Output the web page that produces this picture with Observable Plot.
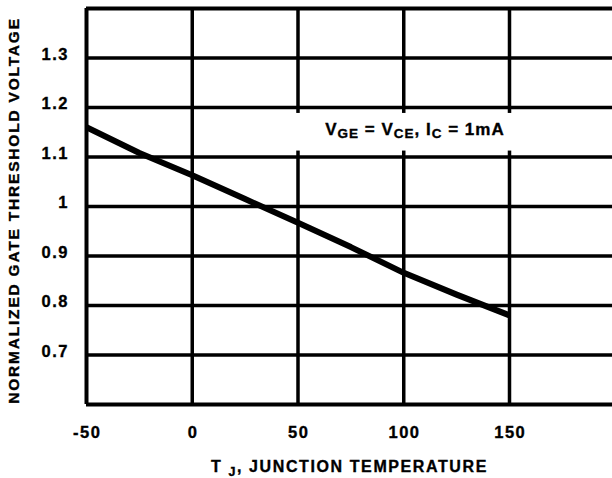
<!DOCTYPE html>
<html>
<head>
<meta charset="utf-8">
<script src="https://cdn.jsdelivr.net/npm/d3@7"></script>
<script src="https://cdn.jsdelivr.net/npm/@observablehq/plot@0.6"></script>
<style>
  html, body { margin: 0; padding: 0; background: #fff; }
  #chart svg { display: block; }
  #chart svg text { stroke: #000; stroke-width: 0.35px; }
</style>
</head>
<body>
<div id="chart"></div>
<script>
// Data
const temps = [-50, -25, 0, 25, 50, 75, 100, 125, 150];
const vth = [1.16, 1.108, 1.063, 1.015, 0.967, 0.918, 0.866, 0.822, 0.78];
const xTicks = [-50, 0, 50, 100, 150];
const yTicks = [0.7, 0.8, 0.9, 1, 1.1, 1.2, 1.3];
const xLabel = "T J, JUNCTION TEMPERATURE";
const yLabel = "NORMALIZED GATE THRESHOLD VOLTAGE";
const note = "VGE = VCE, IC = 1mA";

const rows = temps.map((t, i) => ({t, v: vth[i]}));
const gridX = xTicks.filter(d => d !== -50);

const FONT = "'Liberation Sans', Arial, Helvetica, sans-serif";

const chart = Plot.plot({
  width: 612,
  height: 478,
  marginLeft: 86,
  marginRight: 0,
  marginTop: 8,
  marginBottom: 74,
  style: {fontFamily: FONT, fontWeight: "bold", fontSize: "16.5px", color: "#000", background: "#fff", overflow: "visible"},
  x: {domain: [-50, 198.7]},
  y: {domain: [0.6, 1.4]},
  marks: [
    // grid
    Plot.ruleX(gridX, {stroke: "#000", strokeWidth: 3.5}),
    Plot.ruleY(yTicks, {stroke: "#000", strokeWidth: 3.5}),
    // frame (left, top, bottom)
    Plot.ruleX([-50], {stroke: "#000", strokeWidth: 4}),
    Plot.ruleY([0.6, 1.4], {stroke: "#000", strokeWidth: 4}),
    // annotation background
    Plot.rect([{x1: 12, x2: 162, y1: 1.112, y2: 1.188}], {x1: "x1", x2: "x2", y1: "y1", y2: "y2", fill: "#fff"}),
    Plot.text([note], {x: 105.3, y: 1.155, text: d => d, fill: "#000", fontSize: 17, fontWeight: "bold", textAnchor: "middle"}),
    // curve
    Plot.line(rows, {x: "t", y: "v", stroke: "#000", strokeWidth: 6, strokeLinecap: "butt", strokeLinejoin: "round"}),
    // axes
    Plot.axisX(xTicks, {tickSize: 0, tickPadding: 22, dx: 0.75, tickFormat: d => String(d), label: null, fill: "#000", fontSize: 16.5}),
    Plot.axisY(yTicks, {tickSize: 0, tickPadding: 17.5, dy: -3.5, tickFormat: d => String(d), label: null, fill: "#000", fontSize: 16.5}),
    // axis titles
    Plot.text([yLabel], {frameAnchor: "left", text: d => d, rotate: -90, dx: -68, dy: 4, fontSize: 15.5, fontWeight: "bold", fill: "#000", textAnchor: "middle", lineAnchor: "bottom"}),
    Plot.text([xLabel], {frameAnchor: "bottom", text: d => d, dy: 67, fontSize: 16, fontWeight: "bold", fill: "#000", textAnchor: "middle", lineAnchor: "bottom"})
  ]
});

document.getElementById("chart").appendChild(chart);

// rich text: subscripts and letter spacing
const svg = d3.select(chart);
svg.selectAll("g[aria-label='x-axis tick label'] text, g[aria-label='y-axis tick label'] text")
  .style("letter-spacing", "1.5px");
svg.selectAll("text").each(function() {
  const el = d3.select(this);
  const s = this.textContent;
  if (s === note) {
    el.text("");
    el.style("letter-spacing", "1px");
    const parts = [["V", 0], ["GE", 1], [" = V", 0], ["CE", 1], [", I", 0], ["C", 1], [" = 1mA", 0]];
    let prev = 0;
    for (const [str, sub] of parts) {
      const ts = el.append("tspan").text(str);
      const shift = sub ? 3 : 0;
      if (shift - prev !== 0) ts.attr("dy", shift - prev);
      if (sub) ts.attr("font-size", 13.5);
      prev = shift;
    }
  } else if (s === xLabel) {
    el.text("");
    el.style("letter-spacing", "1.6px");
    el.append("tspan").text("T ");
    el.append("tspan").text("J").attr("dy", 4).attr("font-size", 12.5);
    el.append("tspan").text(", JUNCTION TEMPERATURE").attr("dy", -4);
  } else if (s === yLabel) {
    el.style("letter-spacing", "1.8px");
  }
});
</script>
</body>
</html>
